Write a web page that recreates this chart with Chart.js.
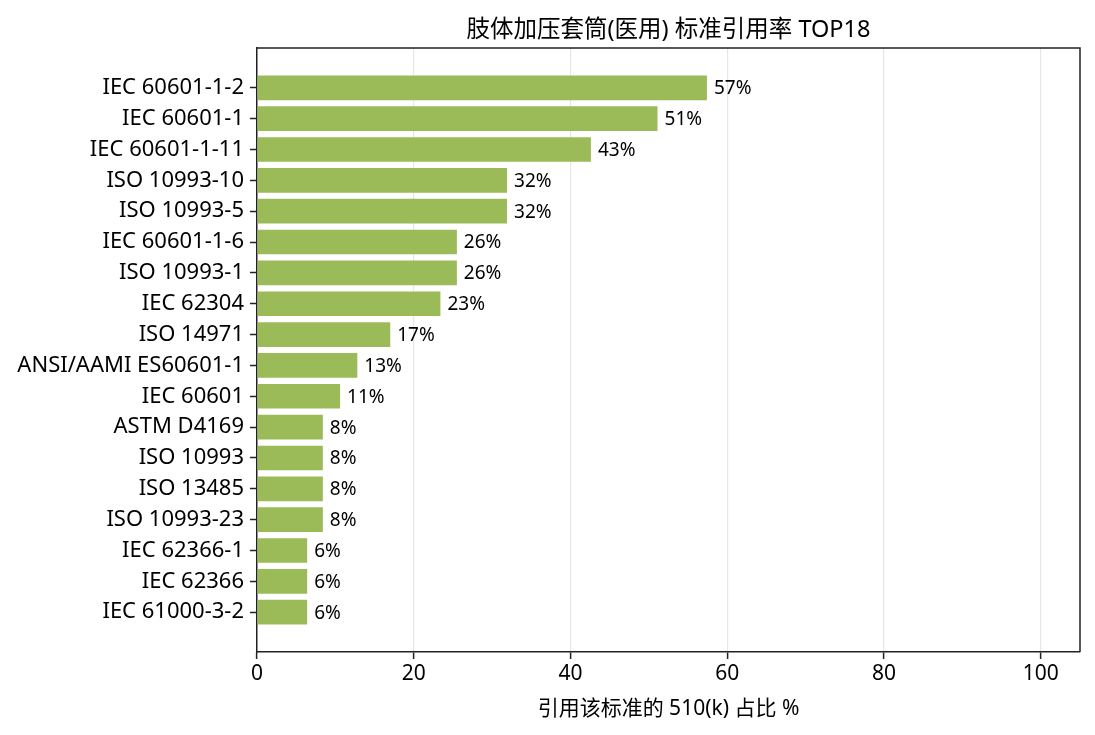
<!DOCTYPE html>
<html>
<head>
<meta charset="utf-8">
<script src="https://cdn.jsdelivr.net/npm/chart.js@4.4.0/dist/chart.umd.min.js"></script>
<style>
  body { margin: 0; background: #fff; }
  #wrap { width: 1095px; height: 735px; }
</style>
</head>
<body>
<div id="wrap"><canvas id="chart"></canvas></div>
<script>
const names = ['IEC 60601-1-2', 'IEC 60601-1', 'IEC 60601-1-11', 'ISO 10993-10', 'ISO 10993-5',
    'IEC 60601-1-6', 'ISO 10993-1', 'IEC 62304', 'ISO 14971', 'ANSI/AAMI ES60601-1',
    'IEC 60601', 'ASTM D4169', 'ISO 10993', 'ISO 13485', 'ISO 10993-23',
    'IEC 62366-1', 'IEC 62366', 'IEC 61000-3-2'];
const shares = [57.4, 51.1, 42.6, 31.9, 31.9, 25.5, 25.5, 23.4, 17.0, 12.8,
    10.6, 8.4, 8.4, 8.4, 8.4, 6.4, 6.4, 6.4];
const shareLabels = ['57%', '51%', '43%', '32%', '32%', '26%', '26%', '23%', '17%', '13%',
    '11%', '8%', '8%', '8%', '8%', '6%', '6%', '6%'];
const xTicks = [0, 20, 40, 60, 80, 100];

const chartTitle = '肢体加压套筒(医用) 标准引用率 TOP18';
const xTitle = '引用该标准的 510(k) 占比 %';
const fontFamily = '"Noto Sans", "Noto Sans CJK SC", sans-serif';

Chart.defaults.color = '#000';
Chart.defaults.font.family = fontFamily;

// title, frame and the % labels on the bars
const extras = {
    id: 'extras',
    afterDatasetsDraw(chart) {
        const ctx = chart.ctx;
        const meta = chart.getDatasetMeta(0);
        ctx.save();
        ctx.fillStyle = '#000';
        ctx.font = '19px ' + fontFamily;
        ctx.textAlign = 'left';
        ctx.textBaseline = 'middle';
        meta.data.forEach((bar, i) => {
            ctx.fillText(shareLabels[i], bar.x + 7, bar.y + 1);
        });
        ctx.restore();
    },
    afterDraw(chart) {
        const ctx = chart.ctx;
        const a = chart.chartArea;
        ctx.save();
        ctx.strokeStyle = '#222';
        ctx.lineWidth = 1.5;
        ctx.beginPath();
        ctx.moveTo(a.left, a.top);
        ctx.lineTo(a.right, a.top);
        ctx.lineTo(a.right, a.bottom);
        ctx.stroke();
        ctx.fillStyle = '#000';
        ctx.font = '23.5px ' + fontFamily;
        ctx.textAlign = 'center';
        ctx.textBaseline = 'alphabetic';
        ctx.fillText(chartTitle, (a.left + a.right) / 2, 37);
        ctx.restore();
    }
};

const ctx = document.getElementById('chart');
let chart = new Chart(ctx, {
    type: 'bar',
    data: {
        datasets: [{
            data: shares.map((v, i) => ({ x: v, y: i })),
            backgroundColor: '#9bbb59',
            borderWidth: 0,
            barPercentage: 0.8,
            categoryPercentage: 1.0
        }]
    },
    options: {
        indexAxis: 'y',
        responsive: true,
        maintainAspectRatio: false,
        animation: false,
        devicePixelRatio: 1,
        layout: { padding: { left: 0, right: 15, top: 48, bottom: 0 } },
        plugins: {
            legend: { display: false },
            tooltip: { enabled: false }
        },
        scales: {
            x: {
                type: 'linear',
                position: 'bottom',
                min: 0,
                max: 105,
                afterBuildTicks: (scale) => {
                    scale.ticks = xTicks.map(v => ({ value: v }));
                },
                afterFit: (scale) => { scale.height = 83; },
                ticks: { font: { size: 21 }, padding: 2, maxRotation: 0 },
                grid: { color: '#e6e6e6', lineWidth: 1.2, tickColor: '#222', tickLength: 7, tickWidth: 1.5 },
                border: { color: '#222', width: 1.5 },
                title: {
                    display: true,
                    text: xTitle,
                    font: { size: 21 },
                    padding: { top: 0, bottom: 13 }
                }
            },
            y: {
                type: 'linear',
                reverse: true,
                offset: false,
                min: -1.29,
                max: 18.29,
                afterBuildTicks: (scale) => {
                    scale.ticks = names.map((n, i) => ({ value: i }));
                },
                afterFit: (scale) => { scale.width = 257; },
                ticks: {
                    font: { size: 22 },
                    padding: 6,
                    autoSkip: false,
                    callback: (value) => names[value]
                },
                grid: { offset: false, drawOnChartArea: false, tickColor: '#222', tickLength: 7, tickWidth: 1.5 },
                border: { color: '#222', width: 1.5 }
            }
        }
    },
    plugins: [extras]
});
</script>
</body>
</html>
